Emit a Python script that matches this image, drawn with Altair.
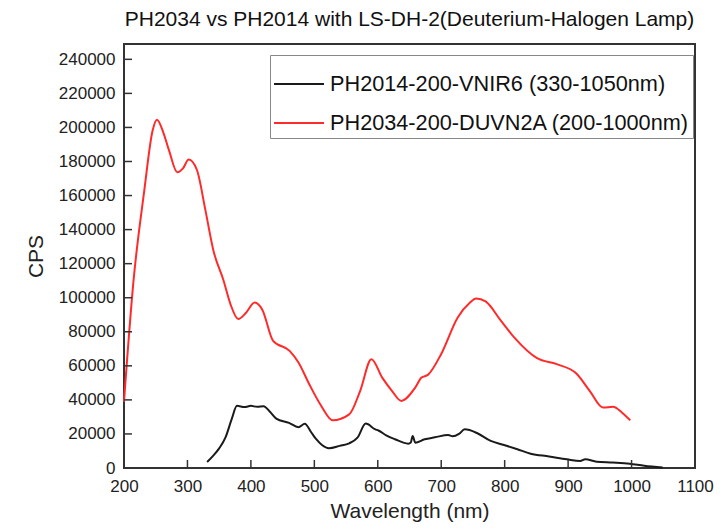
import altair as alt
import pandas as pd

# --- data ---
red_name = "PH2034-200-DUVN2A (200-1000nm)"
black_name = "PH2014-200-VNIR6 (330-1050nm)"

red_wl = [200, 215, 232, 245, 252, 262, 271, 284, 293, 302, 315, 328, 341, 357, 368,
          380, 392, 406, 418, 435, 461, 475, 492, 510, 529, 555, 572, 590, 607, 622, 637,
          659, 669, 679, 700, 726, 745, 755, 770, 794, 815, 851, 882, 913, 934, 955, 971, 985, 998]
red_cps = [39000, 110000, 163000, 198000, 204500, 197000, 186500, 173700, 176000, 181200, 175000,
           152000, 127600, 110000, 96000, 87500, 91000, 97200, 93000, 74700, 68800, 62000, 49200,
           37000, 28000, 31500, 45000, 63900, 53100, 45500, 39400, 47200, 53100, 54700, 67000,
           88400, 97000, 99600, 97800, 86500, 76700, 64500, 61000, 55500, 45300, 35500, 35900,
           32500, 28000]

black_wl = [331, 340, 350, 360, 370, 378, 390, 400, 410, 420, 430, 440, 460, 475, 485, 495,
            503, 512, 523, 540, 555, 568, 581, 596, 601, 614, 627, 648, 652, 655, 659, 674, 690,
            711, 718, 728, 737, 757, 778, 799, 820, 841, 870, 898, 919, 927, 945, 970, 997, 1020, 1049]
black_cps = [3500, 7000, 11500, 18000, 29000, 36500, 35800, 36500, 35900, 36300, 33000, 29000,
             26500, 24000, 26000, 21000, 16900, 13500, 11600, 13000, 14500, 17800, 26100, 22700,
             22000, 19000, 16900, 14300, 15000, 18800, 14900, 16900, 18000, 19400, 18600, 20000,
             22700, 20400, 15900, 13500, 11000, 8400, 6800, 5100, 4100, 5200, 3700, 3200, 2500, 1300, 300]

x_ticks = [200, 300, 400, 500, 600, 700, 800, 900, 1000, 1100]
y_ticks = [0, 20000, 40000, 60000, 80000, 100000, 120000, 140000, 160000,
           180000, 200000, 220000, 240000]

series_names = [black_name, red_name]
series_colors = ["#1a1a1a", "#ff2a2a"]

df = pd.concat([
    pd.DataFrame({"wavelength": black_wl, "cps": black_cps, "series": black_name}),
    pd.DataFrame({"wavelength": red_wl, "cps": red_cps, "series": red_name}),
])

FONT = "Liberation Sans"
W, H = 571, 424

xscale = alt.Scale(domain=[200, 1100], nice=False, zero=False)
yscale = alt.Scale(domain=[0, 249000], nice=False)

x_axis = alt.Axis(title="Wavelength (nm)", values=x_ticks, format="d", ticks=False,
                  domain=False, grid=False, labelPadding=10, titlePadding=6,
                  labelFontSize=17, titleFontSize=21, labelColor="#222",
                  titleColor="#222", titleFontWeight="normal", labelFont=FONT,
                  titleFont=FONT, labelOverlap=False, labelFlush=False)
y_axis = alt.Axis(title="CPS", values=y_ticks, format="d", ticks=False, domain=False,
                  grid=False, labelPadding=9, titlePadding=12, labelFontSize=17,
                  titleFontSize=21, labelColor="#222", titleColor="#222",
                  titleFontWeight="normal", labelFont=FONT, titleFont=FONT,
                  labelOverlap=False, labelFlush=False)

lines = alt.Chart(df).mark_line(strokeWidth=2, interpolate="monotone").encode(
    x=alt.X("wavelength:Q", scale=xscale, axis=x_axis),
    y=alt.Y("cps:Q", scale=yscale, axis=y_axis),
    color=alt.Color("series:N", scale=alt.Scale(domain=series_names, range=series_colors),
                    legend=alt.Legend(title=None, orient="none", legendX=146, legendY=11,
                                      symbolType="stroke", symbolSize=2500, symbolStrokeWidth=2,
                                      labelFontSize=21.7, labelFont=FONT, labelColor="#111",
                                      labelOffset=5, strokeColor="#888", fillColor="white",
                                      padding=3, rowPadding=1, labelLimit=500)),
    order=alt.Order("wavelength:Q"),
)

xt_df = pd.DataFrame({"wavelength": x_ticks})
yt_df = pd.DataFrame({"cps": y_ticks})

xticks = alt.Chart(xt_df).mark_rule(color="#333", strokeWidth=1.5).encode(
    x=alt.X("wavelength:Q", scale=xscale, axis=x_axis),
    y=alt.value(H), y2=alt.value(H - 8),
)
yticks = alt.Chart(yt_df).mark_rule(color="#333", strokeWidth=1.5).encode(
    y=alt.Y("cps:Q", scale=yscale, axis=y_axis),
    x=alt.value(0), x2=alt.value(8),
)

chart = alt.layer(lines, xticks, yticks).properties(
    width=W, height=H,
    title=alt.TitleParams("PH2034 vs PH2014 with LS-DH-2(Deuterium-Halogen Lamp)",
                          fontSize=21, font=FONT, fontWeight="normal", color="#111",
                          anchor="middle", offset=14),
    autosize=alt.AutoSizeParams(type="none"),
    padding={"left": 116, "top": 36, "right": 19, "bottom": 54},
).configure_view(stroke="#333", strokeWidth=2)

chart.save("out.html", embed_options={"renderer": "svg", "actions": False})
